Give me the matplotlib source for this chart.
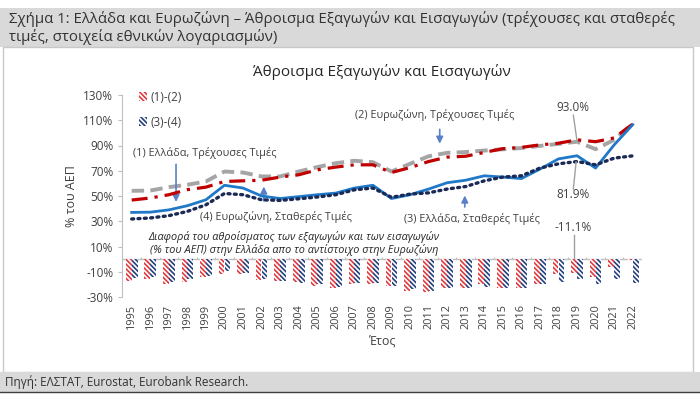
import matplotlib
matplotlib.use("Agg")
import matplotlib.pyplot as plt
from matplotlib.patches import Patch, Rectangle
import numpy as np

plt.rcParams['font.family'] = ['Open Sans', 'DejaVu Sans']
plt.rcParams['hatch.linewidth'] = 1.2

# ---- data ----
years = list(range(1995, 2023))

gr_current = [46.8, 48.4, 51.0, 55.0, 57.0, 61.5, 62.0, 62.5, 65.0, 66.8, 70.7, 72.9, 74.7, 74.7,
              68.6, 72.5, 77.3, 80.8, 81.5, 84.5, 87.5, 88.5, 90.5, 91.8, 94.5, 93.0, 96.0, 107.0]
ez_current = [54.1, 54.3, 57.0, 58.9, 61.5, 69.4, 68.6, 65.5, 65.5, 69.4, 72.9, 76.0, 77.9, 76.8,
              69.4, 75.5, 81.5, 84.2, 84.8, 86.0, 87.0, 88.0, 89.7, 91.3, 93.0, 87.1, 94.5, 107.5]
ez_constant = [37.0, 37.2, 39.0, 42.3, 47.0, 58.5, 56.3, 50.0, 48.0, 49.5, 51.0, 52.3, 56.3, 58.5,
               48.0, 51.0, 55.5, 60.5, 62.5, 66.0, 65.0, 63.8, 71.3, 79.4, 81.9, 72.1, 90.5, 106.5]
gr_constant = [31.8, 32.6, 34.4, 37.8, 43.0, 52.0, 51.0, 47.0, 46.5, 47.8, 49.2, 51.0, 54.9, 56.3,
               49.0, 51.5, 52.5, 55.5, 57.5, 62.0, 65.0, 66.0, 72.1, 75.5, 77.3, 74.7, 80.0, 81.8]

diff_current = [-17, -16, -19.5, -18, -14, -11.5, -11.5, -16.5, -17.5, -18.5, -21, -23, -20, -19.5,
                -21.5, -25, -26, -23, -22.5, -20, -22.5, -22.5, -19.5, -12, -11.1, -14.5, -6, -0.5]
diff_constant = [-15, -14.5, -18, -16, -13, -9.5, -11, -15.5, -17.5, -19, -20, -22, -19, -19,
                 -21, -24, -25, -23, -23, -22, -22.5, -23, -20, -18, -16, -19.5, -15.5, -19]

yticks = [130, 110, 90, 70, 50, 30, 10, -10, -30]

txt = '#404040'
red = '#C00000'
gray = '#A5A5A5'
blue = '#1F78C8'
navy = '#1B2A55'
bar_red = '#E0393E'
bar_blue = '#25407F'
arrow_c = '#5B80C8'
hatch = '\\' * 7

fig = plt.figure(figsize=(7, 3.94), dpi=100)

# header / footer bands
fig.patches.append(Rectangle((0, 1 - 47/394), 1, 39/394, transform=fig.transFigure,
                             facecolor='#D9D9D9', edgecolor='none', zorder=0))
fig.patches.append(Rectangle((3/700, 1 - 372/394), 690/700, 325/394, transform=fig.transFigure,
                             facecolor='none', edgecolor='#C8C8C8', lw=1.0, zorder=0))
fig.patches.append(Rectangle((0, 1 - 392/394), 1, 20/394, transform=fig.transFigure,
                             facecolor='#D9D9D9', edgecolor='none', zorder=0))
fig.add_artist(plt.Line2D([0, 1], [1 - 392/394] * 2, transform=fig.transFigure, color='#404040', lw=1))

fig.text(9/700, 1 - 19/394, 'Σχήμα 1: Ελλάδα και Ευρωζώνη – Άθροισμα Εξαγωγών και Εισαγωγών (τρέχουσες και σταθερές',
         fontsize=10.8, color='#333333', va='center')
fig.text(9/700, 1 - 37/394, 'τιμές, στοιχεία εθνικών λογαριασμών)',
         fontsize=10.8, color='#333333', va='center')
fig.text(5/700, 1 - 382/394, 'Πηγή: ΕΛΣΤΑΤ, Eurostat, Eurobank Research.',
         fontsize=8.5, color='#333333', va='center')

ax = fig.add_axes([122.4/700, 1 - 297/394, 519.6/700, 202/394])
x = np.arange(len(years))

ax.bar(x - 0.16, diff_current, width=0.31, facecolor='white', edgecolor=bar_red,
       hatch=hatch, lw=0, zorder=2)
ax.bar(x + 0.16, diff_constant, width=0.31, facecolor='white', edgecolor=bar_blue,
       hatch=hatch, lw=0, zorder=2)

ax.plot(x, ez_current, color=gray, lw=2.8, ls=(0, (3.2, 1.6)), zorder=3)
ax.plot(x, gr_current, color=red, lw=2.3, ls=(0, (5, 2.2, 1, 2.2)), zorder=4)
ax.plot(x, ez_constant, color=blue, lw=2.0, zorder=5)
ax.plot(x, gr_constant, color=navy, lw=2.4, ls=(0, (0.6, 1.3)), dash_capstyle='round', zorder=6)

ax.axhline(0, color='#BFBFBF', lw=1, zorder=1)
ax.vlines(x[:-1] + 0.5, 0, 1.3, color='#BFBFBF', lw=0.8, zorder=1)

ax.set_xlim(-0.5, len(years) - 0.5)
ax.set_ylim(-30, 130)
ax.set_yticks(yticks)
ax.set_yticklabels([f'{v}%' for v in yticks])
ax.set_xticks(x)
ax.set_xticklabels([str(y) for y in years], rotation=90)
ax.tick_params(axis='x', length=0, labelsize=7.8, colors=txt, pad=5)
ax.tick_params(axis='y', length=3, labelsize=8.5, colors=txt, color='#BFBFBF')
for s in ['top', 'right', 'bottom']:
    ax.spines[s].set_visible(False)
ax.spines['left'].set_color('#BFBFBF')

ax.set_title('Άθροισμα Εξαγωγών και Εισαγωγών', fontsize=11, color='#262626', pad=14)
ax.set_xlabel('Έτος', fontsize=9, color=txt, labelpad=4)
ax.set_ylabel('% του ΑΕΠ', fontsize=9, color=txt, labelpad=4)

handles = [Patch(facecolor='white', edgecolor=bar_red, hatch=hatch, lw=0),
           Patch(facecolor='white', edgecolor=bar_blue, hatch=hatch, lw=0)]
ax.legend(handles, ['(1)-(2)', '(3)-(4)'], loc='upper left', bbox_to_anchor=(0.02, 1.05),
          frameon=False, fontsize=8.5, handlelength=0.7, handleheight=0.8, handletextpad=0.3,
          labelspacing=1.0, labelcolor=txt, borderpad=0)

arr = dict(arrowstyle='-|>', color=arrow_c, lw=1.2, mutation_scale=10)
ax.text(3.92, 84.4, '(1) Ελλάδα, Τρέχουσες Τιμές', fontsize=7.8, color=txt, ha='center', va='center')
ax.annotate('', xy=(2.39, 43.1), xytext=(2.39, 77.3), arrowprops=arr)
ax.text(7.8, 33.5, '(4) Ευρωζώνη, Σταθερές Τιμές', fontsize=7.8, color=txt, ha='center', va='center')
ax.annotate('', xy=(7.12, 59.7), xytext=(7.12, 43.9), arrowprops=arr)
ax.text(16.33, 114.2, '(2) Ευρωζώνη, Τρέχουσες Τιμές', fontsize=7.8, color=txt, ha='center', va='center')
ax.annotate('', xy=(16.6, 89.2), xytext=(16.6, 105), arrowprops=arr)
ax.text(18.35, 32, '(3) Ελλάδα, Σταθερές Τιμές', fontsize=7.8, color=txt, ha='center', va='center')
ax.annotate('', xy=(17.95, 52.6), xytext=(17.95, 39.1), arrowprops=arr)

ax.text(8.75, 12.3, 'Διαφορά του αθροίσματος των εξαγωγών και των εισαγωγών\n'
        '(% του ΑΕΠ) στην Ελλάδα απο το αντίστοιχο στην Ευρωζώνη',
        fontsize=7.8, style='italic', color='#262626', ha='center', va='center', linespacing=1.1)

ann = '#A0A0A0'
ax.text(23.76, 119.8, '93.0%', fontsize=8.5, color=txt, ha='center', va='center')
ax.plot([23.8, 24.0], [114, 93.5], color=ann, lw=1, zorder=7)
ax.text(23.76, 51, '81.9%', fontsize=8.5, color=txt, ha='center', va='center')
ax.plot([23.8, 23.95], [55.5, 77], color=ann, lw=1, zorder=7)
ax.text(23.8, 24.9, '-11.1%', fontsize=8.5, color=txt, ha='center', va='center')
ax.plot([23.85, 23.85], [19.5, 0.5], color=ann, lw=1, zorder=7)

fig.savefig('out.png', dpi=100)
